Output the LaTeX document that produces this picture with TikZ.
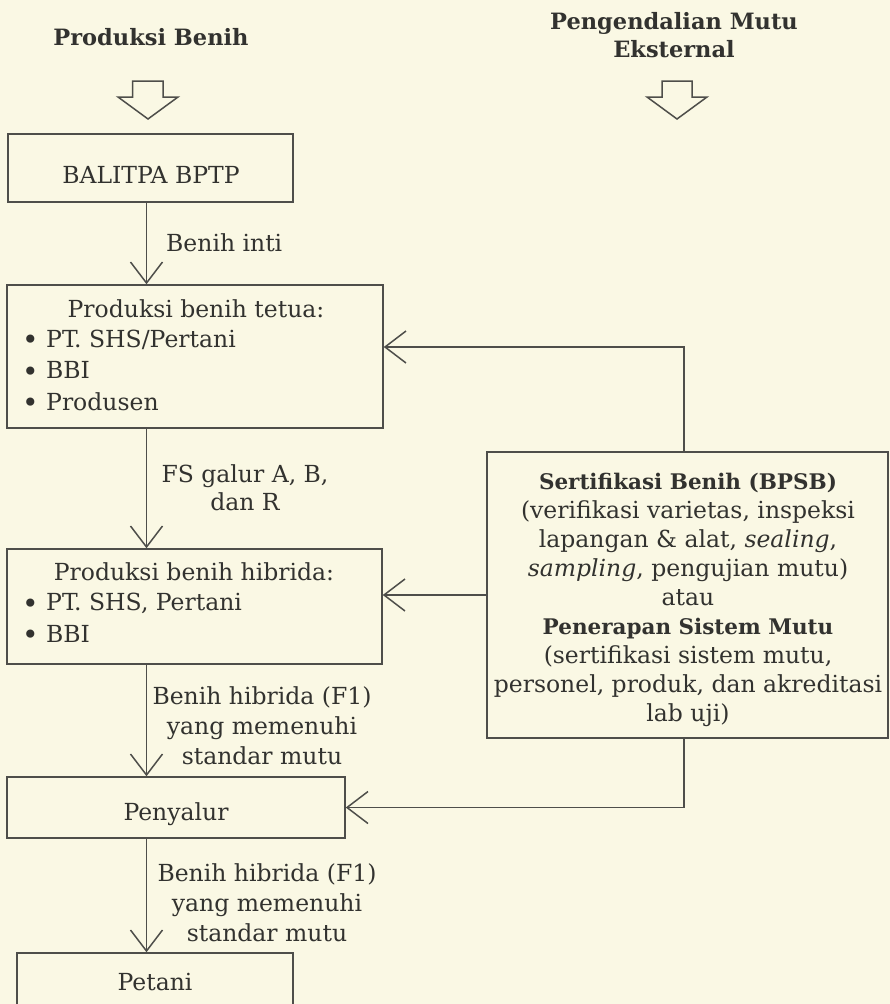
\documentclass[tikz,border=0pt]{standalone}
\usepackage{fontspec}
\setmainfont{DejaVu Serif}
\usetikzlibrary{arrows.meta}
\definecolor{paper}{RGB}{250,248,228}
\definecolor{ink}{RGB}{50,50,47}
\definecolor{linec}{RGB}{78,78,74}
\newcommand{\bul}{{\fontsize{28}{28}\selectfont\raisebox{-2.5pt}{•}}}
\tikzset{
  boxnode/.style={draw=linec, line width=1.5pt, rectangle, inner sep=0pt},
  txt/.style={inner sep=0pt, text=ink},
  conn/.style={draw=linec, line width=1.5pt, -{Straight Barb[length=21pt,width=32pt,line width=1.5pt]}},
  hollow/.style={draw=linec, line width=1.5pt, line join=miter},
  head/.style={txt, font=\bfseries\fontsize{22.5}{28}\selectfont},
}
\begin{document}
\begin{tikzpicture}[x=1pt, y=-1pt, font=\fontsize{23.5}{30}\selectfont]
\useasboundingbox (0,0) rectangle (890,1004);
\fill[paper] (0,0) rectangle (890,1004);

% headings
\node[head, anchor=base] (hL) at (151,45) {Produksi Benih};
\node[head, anchor=north, align=center] (hR) at (674,12) {Pengendalian Mutu\\Eksternal};

% hollow arrows
\draw[hollow] (132.5,81) -- (163,81) -- (163,97) -- (178,97) -- (148,119) -- (118,97) -- (132.5,97) -- cycle;
\draw[hollow] (662,81) -- (692,81) -- (692,97) -- (707,97) -- (677,119) -- (647,97) -- (662,97) -- cycle;

% boxes
\node[boxnode, minimum width=285pt, minimum height=68pt] (b1) at (150.5,168) {};
\node[boxnode, minimum width=376pt, minimum height=143pt] (b2) at (195,356.5) {};
\node[boxnode, minimum width=375pt, minimum height=115pt] (b3) at (194.5,606.5) {};
\node[boxnode, minimum width=338pt, minimum height=61pt] (b4) at (176,807.5) {};
\node[boxnode, minimum width=276pt, minimum height=58pt] (b5) at (155,982) {};
\node[boxnode, minimum width=401pt, minimum height=286pt] (rb) at (687.5,595) {};

% box texts
\node[txt, anchor=base] (t1) at (151,183.5) {BALITPA BPTP};
\node[txt, anchor=base] (t2) at (196,317) {Produksi benih tetua:};
\node[txt, anchor=north west, align=left, font=\fontsize{23.5}{31.5}\selectfont] (u2) at (22,329.5) {\bul\ PT. SHS/Pertani\\\bul\ BBI\\\bul\ Produsen};
\node[txt, anchor=base] (t3) at (194,580) {Produksi benih hibrida:};
\node[txt, anchor=north west, align=left, font=\fontsize{23.5}{31.5}\selectfont] (u3) at (22,593) {\bul\ PT. SHS, Pertani\\\bul\ BBI};
\node[txt, anchor=base] (t4) at (176,820) {Penyalur};
\node[txt, anchor=base] (t5) at (155,990) {Petani};
\node[txt, anchor=north, align=center, font=\fontsize{23.5}{29}\selectfont] (rt) at (688,473) {{\bfseries\fontsize{21.5}{29}\selectfont Sertifikasi Benih (BPSB)}\\(verifikasi varietas, inspeksi\\lapangan \& alat, \textit{sealing},\\\textit{sampling}, pengujian mutu)\\atau\\{\bfseries\fontsize{21.5}{29}\selectfont Penerapan Sistem Mutu}\\(sertifikasi sistem mutu,\\personel, produk, dan akreditasi\\lab uji)};

% connector labels
\node[txt, anchor=base west] (l1) at (166,251.5) {Benih inti};
\node[txt, anchor=north, align=center, font=\fontsize{23.5}{28}\selectfont] (l2) at (245,464) {FS galur A, B,\\dan R};
\node[txt, anchor=north, align=center] (l3) at (262,686.5) {Benih hibrida (F1)\\yang memenuhi\\standar mutu};
\node[txt, anchor=north, align=center] (l4) at (267,863.5) {Benih hibrida (F1)\\yang memenuhi\\standar mutu};

% connectors
\coordinate (xL) at (146.5,0);
\coordinate (xR) at (684,0);
\coordinate (yT) at (0,347);
\draw[conn] (b1.south -| xL) -- (b2.north -| xL);
\draw[conn] (b2.south -| xL) -- (b3.north -| xL);
\draw[conn] (b3.south -| xL) -- (b4.north -| xL);
\draw[conn] (b4.south -| xL) -- (b5.north -| xL);
\draw[conn] (rb.north -| xR) |- (b2.east |- yT);
\draw[conn] (rb.west) -- (rb.west -| b3.east);
\draw[conn] (rb.south -| xR) |- (b4.east);
\end{tikzpicture}
\end{document}
